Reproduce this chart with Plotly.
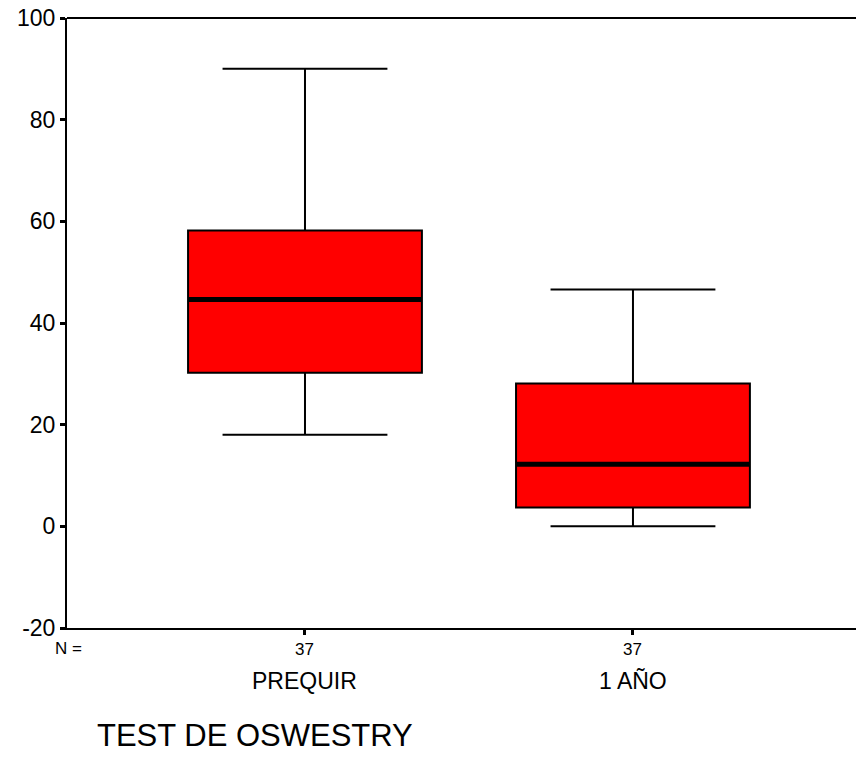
import plotly.graph_objects as go

categories = ["PREQUIR", "1 AÑO"]
n_values = [37, 37]
q1 = [30.2, 3.7]
medians = [44.6, 12.2]
q3 = [58.2, 28.1]
lower_whisker = [18.0, 0.0]
upper_whisker = [90.0, 46.6]
y_ticks = [-20, 0, 20, 40, 60, 80, 100]
y_tick_text = ["-20", "0", "20", "40", "60", "80", "100"]

FONT = "Liberation Sans, Arial, sans-serif"
BOX_W = 0.713
xpos = list(range(len(categories)))

fig = go.Figure()
fig.add_trace(go.Box(
    x=xpos, q1=q1, median=medians, q3=q3,
    lowerfence=lower_whisker, upperfence=upper_whisker,
    width=BOX_W, whiskerwidth=0.705,
    fillcolor="#ff0000", line=dict(color="black", width=2),
    boxpoints=False, showlegend=False, hoverinfo="skip",
))
for i, m in zip(xpos, medians):
    fig.add_shape(type="line", xref="x", yref="y",
                  x0=i - BOX_W / 2, x1=i + BOX_W / 2, y0=m, y1=m,
                  line=dict(color="black", width=5))

# top border line
fig.add_shape(type="line", xref="paper", yref="paper", x0=0, x1=1, y0=1, y1=1,
              line=dict(color="black", width=2))

for i, nv in zip(xpos, n_values):
    fig.add_annotation(x=i, xref="x", y=-0.036, yref="paper", text=str(nv),
                       showarrow=False, font=dict(family=FONT, size=17, color="black"),
                       xanchor="center", yanchor="middle")
    fig.add_annotation(x=i, xref="x", y=-0.087, yref="paper", text=categories[i],
                       showarrow=False, font=dict(family=FONT, size=23, color="black"),
                       xanchor="center", yanchor="middle")
fig.add_annotation(x=0.002, xref="paper", y=-0.034, yref="paper", text="N =",
                   showarrow=False, font=dict(family=FONT, size=17, color="black"),
                   xanchor="center", yanchor="middle")
fig.add_annotation(x=0.036, xref="paper", y=-0.177, yref="paper", text="TEST DE OSWESTRY",
                   showarrow=False, font=dict(family=FONT, size=31, color="black"),
                   xanchor="left", yanchor="middle")

fig.update_layout(
    width=856, height=771,
    margin=dict(l=67, r=0, t=18, b=143, autoexpand=False),
    paper_bgcolor="white", plot_bgcolor="white",
    font=dict(family=FONT, color="black"),
    xaxis=dict(range=[-0.7256, 1.680], tickvals=xpos, ticktext=["", ""],
               showgrid=False, zeroline=False, showline=True, linecolor="black", linewidth=2,
               ticks="outside", ticklen=5, tickwidth=3, tickcolor="black", automargin=False),
    yaxis=dict(range=[-20, 100], tickvals=y_ticks, ticktext=y_tick_text,
               showgrid=False, zeroline=False,
               showline=True, linecolor="black", linewidth=2,
               ticks="outside", ticklen=5, tickwidth=3, tickcolor="black",
               ticklabeloverflow="allow", automargin=False,
               tickfont=dict(family=FONT, size=23, color="black")),
)

fig.write_html("out.html", config={"displayModeBar": False},
               post_script="document.body.style.margin='0';document.body.style.overflow='hidden';")
